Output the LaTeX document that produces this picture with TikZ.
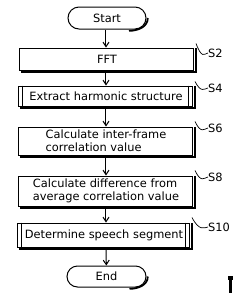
\documentclass[tikz,border=0pt]{standalone}
\usepackage{fontspec}
\setmainfont{DejaVu Sans}
\usetikzlibrary{shapes.misc,arrows.meta}
\tikzset{
  base/.style={draw, line width=1pt, inner sep=0pt, font=\fontsize{11.4}{12.6}\selectfont},
  procbox/.style={base, rectangle, minimum width=174pt},
  termbox/.style={base, rounded rectangle, minimum width=78pt, minimum height=22pt},
  flow/.style={line width=1pt, -{Straight Barb[length=4.5pt,width=6pt]}},
  lead/.style={line width=0.7pt},
  steplabel/.style={font=\fontsize{11.4}{12}\selectfont, anchor=west, inner sep=0pt},
  shade/.style={line width=1.8pt}
}
\begin{document}
\begin{tikzpicture}[x=1pt,y=-1pt]
\useasboundingbox (0,0) rectangle (234,293);
% nodes
\node[termbox] (start) at (107,18) {Start};
\node[procbox, minimum height=22pt] (s2) at (107,59) {FFT};
\node[procbox, minimum height=20pt] (s4) at (106,96) {Extract harmonic structure};
\node[procbox, minimum height=28pt, align=left] (s6) at (106,141) {Calculate inter-frame\\correlation value};
\node[procbox, minimum height=30pt, align=left] (s8) at (106,191) {Calculate difference from\\average correlation value};
\node[procbox, minimum width=172pt, minimum height=24pt] (s10) at (104,235) {Determine speech segment};
\node[termbox, minimum width=79pt, minimum height=21pt] (end) at (106.5,276.5) {End};
% shadows
\foreach \n in {s2,s4,s6,s8,s10}{
  \draw[shade] ([xshift=1.3pt,yshift=-0.4pt]\n.north east) -- ([xshift=1.3pt,yshift=-1.3pt]\n.south east) -- ([xshift=2pt,yshift=-1.3pt]\n.south west);
}
\draw[shade] ([xshift=-6pt,yshift=-1.3pt]start.south east) to[out=0,in=-90] ([xshift=1.3pt]start.east);
\draw[shade] ([xshift=-6pt,yshift=-1.3pt]end.south east) to[out=0,in=-90] ([xshift=1.3pt]end.east);
% double side bars for predefined processes
\draw[base] ([xshift=4.5pt]s4.north west) -- ([xshift=4.5pt]s4.south west);
\draw[base] ([xshift=-4.5pt]s4.north east) -- ([xshift=-4.5pt]s4.south east);
\draw[base] ([xshift=4.5pt]s10.north west) -- ([xshift=4.5pt]s10.south west);
\draw[base] ([xshift=-4.5pt]s10.north east) -- ([xshift=-4.5pt]s10.south east);
% connectors
\draw[flow] (start.south -| 106,0) -- (s2.north -| 106,0);
\draw[flow] (s2.south -| 106,0) -- (s4.north -| 106,0);
\draw[flow] (s4) -- (s6);
\draw[flow] (s6) -- (s8);
\draw[flow] (s8) -- (s10.north -| 106,0);
\draw[flow] (s10.south -| 106,0) -- (end);
% step labels
\node[steplabel] (l2) at (208,53) {S2};
\node[steplabel] (l4) at (208,88) {S4};
\node[steplabel] (l6) at (208,128) {S6};
\node[steplabel] (l8) at (208,177) {S8};
\node[steplabel] (l10) at (208,227) {S10};
\draw[lead] ([xshift=1.5pt,yshift=4pt]s2.north east) .. controls (202,59) and (204,54) .. (l2.west);
\draw[lead] ([xshift=1.5pt,yshift=4pt]s4.north east) .. controls (201,93) and (204,89) .. (l4.west);
\draw[lead] ([xshift=1.5pt,yshift=5pt]s6.north east) .. controls (201,134) and (204,129) .. (l6.west);
\draw[lead] ([xshift=1.5pt,yshift=5pt]s8.north east) .. controls (201,183) and (204,178) .. (l8.west);
\draw[lead] ([xshift=1.5pt,yshift=5pt]s10.north east) .. controls (199,231) and (204,228) .. (l10.west);
% scanning mark at bottom right
\fill (229,276) rectangle (232.5,293);
\fill (228,276) rectangle (233,280);
\end{tikzpicture}
\end{document}
